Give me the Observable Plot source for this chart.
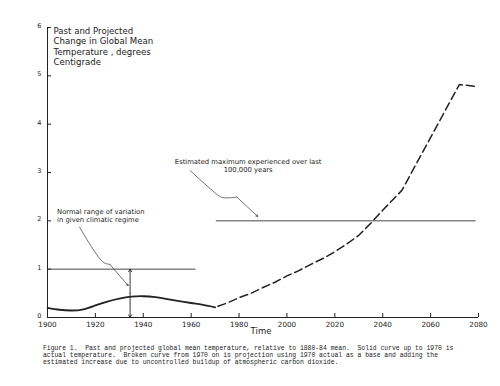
<!DOCTYPE html>
<html><head><meta charset="utf-8">
<script src="https://cdn.jsdelivr.net/npm/d3@7"></script>
<script src="https://cdn.jsdelivr.net/npm/@observablehq/plot@0.6"></script>
<style>
body{margin:0;background:#fff;width:500px;height:386px;overflow:hidden}
#caption{font-family:"Liberation Mono","DejaVu Sans Mono",monospace;font-size:6.4px;line-height:7.2px;color:#222;margin:3px 0 0 43px;white-space:pre}
</style></head><body><div id="chart"></div><div id="caption"></div>
<script>
// Observed (solid) curve
const solidYears = [1900,1905,1910,1915,1920,1925,1930,1935,1940,1945,1950,1955,1960,1965,1970];
const solidTemps = [0.20,0.16,0.145,0.17,0.25,0.33,0.39,0.43,0.44,0.42,0.38,0.34,0.30,0.26,0.21];
// Projection (dashed) curve
const projYears = [1970,1975,1980,1985,1990,1995,2000,2005,2010,2015,2020,2025,2030,2035,2040,2048,2072,2079];
const projTemps = [0.21,0.30,0.41,0.50,0.62,0.73,0.86,0.97,1.10,1.22,1.36,1.52,1.70,1.95,2.22,2.63,4.82,4.78];
// Reference levels
const levelValues = [1, 2];
const levelStarts = [1900, 1970.5];
const levelEnds = [1962, 2079];
// Ticks
const xTicks = [1900,1920,1940,1960,1980,2000,2020,2040,2060,2080];
const yTicks = [0,1,2,3,4,5,6];
// Text
const titleText = "Past and Projected\nChange in Global Mean\nTemperature , degrees\nCentigrade";
const normalText = "Normal range of variation\nin given climatic regime";
const maxText = "Estimated maximum experienced over last\n100,000 years";
const xLabel = "Time";
const captionLines = [
 "Figure 1.  Past and projected global mean temperature, relative to 1880-84 mean.  Solid curve up to 1970 is",
 "actual temperature.  Broken curve from 1970 on is projection using 1970 actual as a base and adding the",
 "estimated increase due to uncontrolled buildup of atmospheric carbon dioxide."
];
// Annotation anchors (data coordinates)
const normalTextPos = [1904, 2.11];
const maxTextPos = [1983.8, 3.14];
const normalLeaderX = [1913.4, 1923.2, 1926, 1933.7];
const normalLeaderY = [1.87, 1.145, 1.10, 0.66];
const maxLeaderX = [1959.6, 1971, 1973.2, 1979.1, 1987.8];
const maxLeaderY = [3.04, 2.54, 2.48, 2.49, 2.09];
const rangeArrowX = [1934.5];
const rangeArrowLow = [0];
const rangeArrowMid = [0.5];
const rangeArrowHigh = [1];

const ink = "#222";
const solid = solidYears.map((x, i) => ({x, y: solidTemps[i]}));
const proj = projYears.map((x, i) => ({x, y: projTemps[i]}));
const levels = levelValues.map((v, i) => ({v, x1: levelStarts[i], x2: levelEnds[i]}));
const normalLeader = normalLeaderX.map((x, i) => ({x, y: normalLeaderY[i]}));
const maxLeader = maxLeaderX.map((x, i) => ({x, y: maxLeaderY[i]}));
const lastSeg = pts => [{x1: pts[pts.length-2].x, y1: pts[pts.length-2].y, x2: pts[pts.length-1].x, y2: pts[pts.length-1].y}];
const rangeArrows = rangeArrowX.flatMap((x, i) => [
  {x1: x, y1: rangeArrowMid[i], x2: x, y2: rangeArrowHigh[i]},
  {x1: x, y1: rangeArrowMid[i], x2: x, y2: rangeArrowLow[i]}
]);

const chart = Plot.plot({
  width: 500, height: 342,
  marginLeft: 47, marginRight: 22, marginTop: 27, marginBottom: 25,
  x: {domain: [1900, 2080]},
  y: {domain: [0, 6]},
  style: {fontFamily: "DejaVu Sans", color: ink, background: "#fff"},
  marks: [
    Plot.axisX(xTicks, {tickSize: -4, tickPadding: 8, fontSize: 7.2, label: null, tickFormat: d => String(d), stroke: ink}),
    Plot.axisY(yTicks, {tickSize: -4, label: null, tickFormat: () => "", stroke: ink}),
    Plot.axisY(yTicks, {tickSize: 0, tickPadding: 6, dy: -1.5, fontSize: 6.5, label: null, tickFormat: d => String(d)}),
    Plot.ruleY([0], {stroke: ink, strokeWidth: 1}),
    Plot.ruleX([1900], {stroke: ink, strokeWidth: 1}),
    Plot.text([xLabel], {frameAnchor: "bottom", dy: 16, dx: -2, fontSize: 8.5, fill: ink}),
    Plot.ruleY(levels, {y: "v", x1: "x1", x2: "x2", stroke: "#333", strokeWidth: 0.9}),
    Plot.line(solid, {x: "x", y: "y", curve: "natural", stroke: ink, strokeWidth: 1.8}),
    Plot.line(proj, {x: "x", y: "y", curve: "linear", stroke: ink, strokeWidth: 1.5, strokeDasharray: "8,4", strokeDashoffset: -3}),
    Plot.arrow(rangeArrows, {x1: "x1", y1: "y1", x2: "x2", y2: "y2", stroke: ink, strokeWidth: 0.9, headLength: 5}),
    Plot.line(normalLeader.slice(0, -1), {x: "x", y: "y", curve: "catmull-rom", stroke: "#333", strokeWidth: 0.7}),
    Plot.arrow(lastSeg(normalLeader), {x1: "x1", y1: "y1", x2: "x2", y2: "y2", stroke: "#333", strokeWidth: 0.7, headLength: 4}),
    Plot.line(maxLeader.slice(0, -1), {x: "x", y: "y", curve: "catmull-rom", stroke: "#333", strokeWidth: 0.7}),
    Plot.arrow(lastSeg(maxLeader), {x1: "x1", y1: "y1", x2: "x2", y2: "y2", stroke: "#333", strokeWidth: 0.7, headLength: 4}),
    Plot.text([titleText], {x: 1902.5, y: 6, dy: -1, text: d => d, textAnchor: "start", lineAnchor: "top", fontSize: 8.6, lineHeight: 1.22, fill: ink}),
    Plot.text([normalText], {x: normalTextPos[0], y: normalTextPos[1], text: d => d, textAnchor: "start", lineAnchor: "middle", fontSize: 6.8, lineHeight: 1.15, fill: ink}),
    Plot.text([maxText], {x: maxTextPos[0], y: maxTextPos[1], text: d => d, textAnchor: "middle", lineAnchor: "middle", fontSize: 6.8, lineHeight: 1.15, fill: ink})
  ]
});
document.getElementById("chart").appendChild(chart);
document.getElementById("caption").textContent = captionLines.join("\n");
</script></body></html>
